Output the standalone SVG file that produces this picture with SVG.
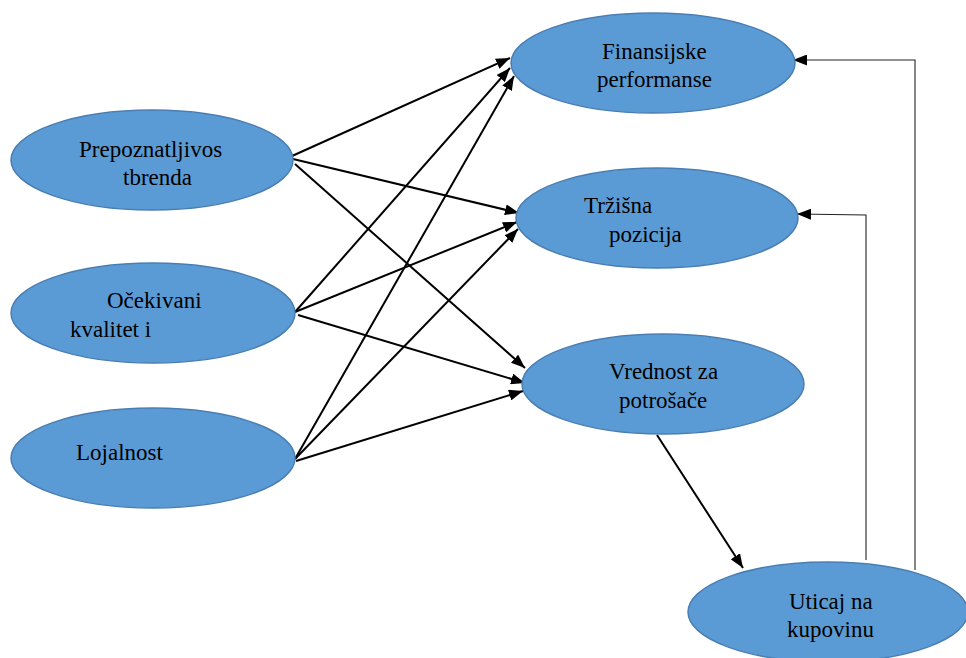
<svg xmlns="http://www.w3.org/2000/svg" width="966" height="658" viewBox="0 0 966 658">
  <style>
    .node ellipse { fill: #5B9BD5; stroke: #4A7EB2; stroke-width: 1.5; }
    .node text { font-family: "Liberation Serif", "Times New Roman", serif; font-size: 23px; fill: #000; }
    .conn { fill: none; stroke: #000; stroke-width: 2; }
    .fb { fill: none; stroke: #222; stroke-width: 1.1; }
  </style>
  <defs>
    <marker id="ah" viewBox="0 0 14 11" refX="14" refY="5.5" markerWidth="14" markerHeight="11" markerUnits="userSpaceOnUse" orient="auto">
      <path d="M0,0 L14,5.5 L0,11 z" fill="#000"/>
    </marker>
  </defs>

  <g id="connectors">
    <line class="conn" x1="292" y1="156" x2="510" y2="58" marker-end="url(#ah)"/>
    <line class="conn" x1="293" y1="159" x2="519" y2="213" marker-end="url(#ah)"/>
    <line class="conn" x1="295" y1="164" x2="525" y2="368" marker-end="url(#ah)"/>
    <line class="conn" x1="295" y1="312" x2="510" y2="68" marker-end="url(#ah)"/>
    <line class="conn" x1="295" y1="312" x2="517" y2="222" marker-end="url(#ah)"/>
    <line class="conn" x1="298" y1="315" x2="525" y2="383" marker-end="url(#ah)"/>
    <line class="conn" x1="295" y1="459" x2="514" y2="76" marker-end="url(#ah)"/>
    <line class="conn" x1="295" y1="459" x2="518" y2="229" marker-end="url(#ah)"/>
    <line class="conn" x1="296" y1="461" x2="523" y2="391" marker-end="url(#ah)"/>
    <line class="conn" x1="657" y1="435" x2="743" y2="568" marker-end="url(#ah)"/>
    <path class="fb" d="M866,560 L866,215 L797,214" marker-end="url(#ah)"/>
    <path class="fb" d="M915,570 L915,60 L793,60" marker-end="url(#ah)"/>
  </g>

  <g id="node-prepoznatljivost" class="node">
    <ellipse cx="152" cy="160" rx="141" ry="50"/>
    <text x="79" y="157">Prepoznatljivos</text>
    <text x="123" y="185">tbrenda</text>
  </g>
  <g id="node-ocekivani" class="node">
    <ellipse cx="153" cy="313" rx="142" ry="50"/>
    <text x="107" y="308">Očekivani</text>
    <text x="70" y="337">kvalitet i</text>
  </g>
  <g id="node-lojalnost" class="node">
    <ellipse cx="153" cy="458" rx="142" ry="50"/>
    <text x="76" y="460">Lojalnost</text>
  </g>
  <g id="node-finansijske" class="node">
    <ellipse cx="653" cy="63" rx="142" ry="50"/>
    <text x="602" y="59">Finansijske</text>
    <text x="597" y="87">performanse</text>
  </g>
  <g id="node-trzisna" class="node">
    <ellipse cx="657" cy="218" rx="141" ry="50"/>
    <text x="584" y="213">Tržišna</text>
    <text x="609" y="242">pozicija</text>
  </g>
  <g id="node-vrednost" class="node">
    <ellipse cx="663" cy="384" rx="141" ry="50"/>
    <text x="609" y="379">Vrednost za</text>
    <text x="619" y="408">potrošače</text>
  </g>
  <g id="node-uticaj" class="node">
    <ellipse cx="828" cy="612" rx="140" ry="50"/>
    <text x="789" y="609">Uticaj na</text>
    <text x="787" y="637">kupovinu</text>
  </g>
</svg>
